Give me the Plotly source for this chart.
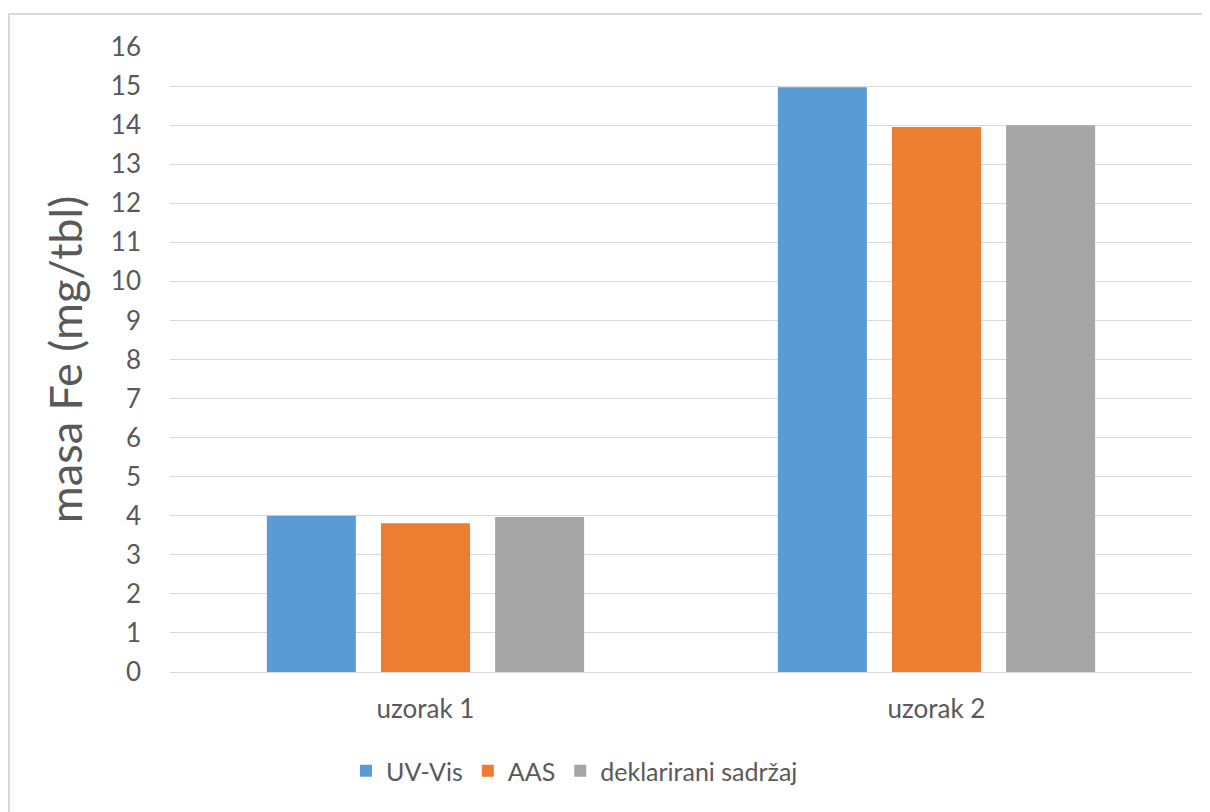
import plotly.graph_objects as go

categories = ["uzorak 1", "uzorak 2"]
series_names = ["UV-Vis", "AAS", "deklarirani sadržaj"]
uv_vis = [4.0, 14.97]
aas = [3.81, 13.95]
deklarirani = [3.97, 14.0]
colors = ["#5B9BD5", "#ED7D31", "#A5A5A5"]
y_ticks = list(range(0, 17))

FONT = "Lato"
fig = go.Figure()
for name, vals, c in zip(series_names, [uv_vis, aas, deklarirani], colors):
    fig.add_trace(go.Bar(name=name, x=categories, y=vals, marker=dict(color=c, line=dict(width=0))))

# page body has an 8px margin; figure is placed at (8, 8)
OFF = 8
W, H = 1210 - OFF, 812 - OFF
L, R, T, B = 170 - OFF, 18, 47 - OFF, 140
pw, ph = W - L - R, H - T - B

def px_x(p):
    return (p - OFF - L) / pw

def px_y(p):
    return (H - B - (p - OFF)) / ph

fig.update_layout(
    width=W, height=H,
    margin=dict(l=L, r=R, t=T, b=B),
    paper_bgcolor="white", plot_bgcolor="white",
    barmode="group", bargap=0.33, bargroupgap=0.22,
    font=dict(family=FONT, color="#595959"),
    showlegend=True,
    legend=dict(orientation="h", x=px_x(346), xanchor="left", y=px_y(771), yanchor="middle",
                font=dict(size=25, color="#595959", family=FONT), itemsizing="constant",
                traceorder="normal"),
    xaxis=dict(showgrid=False, showline=False, ticks="", tickfont=dict(size=26, color="#595959"),
               ticklabelstandoff=19),
    yaxis=dict(range=[0, 16], tickvals=y_ticks, showgrid=True, gridcolor="#D9D9D9", gridwidth=1.3,
               zeroline=True, zerolinecolor="#D9D9D9", zerolinewidth=1.3,
               tickfont=dict(size=26, color="#595959"), ticklabelstandoff=28,
               title=dict(text="masa Fe (mg/tbl)", font=dict(size=45, color="#595959"), standoff=14)),
    shapes=[dict(type="rect", xref="paper", yref="paper",
                 x0=px_x(9), x1=px_x(1240), y0=px_y(850), y1=px_y(14),
                 line=dict(color="#D9D9D9", width=2), fillcolor="rgba(0,0,0,0)", layer="below")],
)

fig.write_html("out.html")
